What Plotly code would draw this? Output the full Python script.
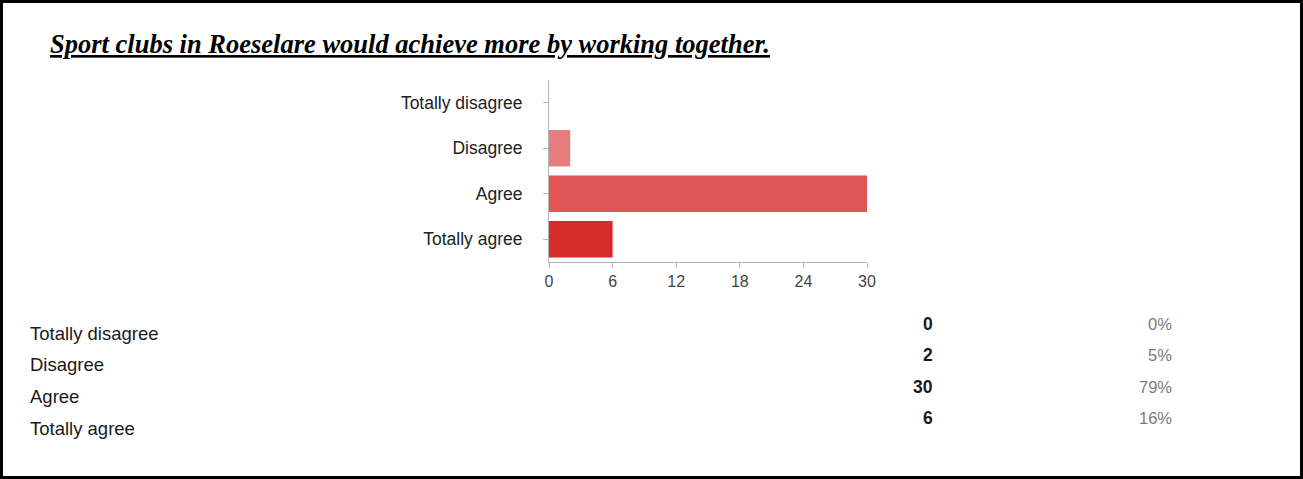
import plotly.graph_objects as go

# Survey answers
categories = ["Totally disagree", "Disagree", "Agree", "Totally agree"]
counts = [0, 2, 30, 6]
bar_colors = ["#f0a8a8", "#e77c7c", "#e05555", "#d72b2b"]
x_ticks = [0, 6, 12, 18, 24, 30]
title_text = "Sport clubs in Roeselare would achieve more by working together."

total = sum(counts)
percents = [f"{round(100 * c / total)}%" for c in counts]

W, H = 1303, 479
L, R, T, B = 549, 867, 80, 262  # plot area in pixels


def px(x):
    return (x - L) / (R - L)


def py(y):
    return (B - y) / (B - T)


fig = go.Figure(
    go.Bar(
        x=counts,
        y=categories,
        orientation="h",
        marker=dict(color=bar_colors, line=dict(width=0)),
        width=0.8,
        hoverinfo="skip",
    )
)

fig.update_layout(
    width=W,
    height=H,
    margin=dict(l=L, r=W - R, t=T, b=H - B),
    paper_bgcolor="white",
    plot_bgcolor="white",
    showlegend=False,
    font=dict(family="Arial, Liberation Sans, sans-serif"),
)

fig.update_xaxes(
    range=[0, 30],
    tickvals=x_ticks,
    showgrid=False,
    zeroline=False,
    showline=True,
    linecolor="#b5b5b5",
    linewidth=1,
    ticks="outside",
    ticklen=5,
    tickcolor="#b5b5b5",
    tickfont=dict(size=16, color="#444444"),
)

fig.update_yaxes(
    categoryorder="array",
    categoryarray=categories[::-1],
    range=[-0.5, 3.5],
    showgrid=False,
    zeroline=False,
    showline=True,
    linecolor="#b5b5b5",
    linewidth=1,
    ticks="outside",
    ticklen=5,
    tickcolor="#b5b5b5",
    tickfont=dict(size=17.5, color="#222222"),
    ticklabelstandoff=17,
)

annotations = [
    dict(
        x=px(48), y=py(44), xref="paper", yref="paper",
        text=f"<b><i><u>{title_text}</u></i></b>",
        showarrow=False, xanchor="left", yanchor="middle",
        font=dict(family="Liberation Serif, Times New Roman, serif", size=26.5, color="black"),
    )
]

label_y = [333, 364, 396, 428]
value_y = [324, 355, 387, 418]
label_fonts = ["Arial, Liberation Sans, sans-serif"] * 4
label_fonts[2] = "Liberation Sans Narrow, Arial Narrow, sans-serif"
for cat, cnt, pct, ly, vy, fam in zip(categories, counts, percents, label_y, value_y, label_fonts):
    annotations.append(dict(
        x=px(28), y=py(ly), xref="paper", yref="paper", text=cat,
        showarrow=False, xanchor="left", yanchor="middle",
        font=dict(size=18.5, color="#1a1a1a", family=fam),
    ))
    annotations.append(dict(
        x=px(935), y=py(vy), xref="paper", yref="paper", text=f"<b>{cnt}</b>",
        showarrow=False, xanchor="right", yanchor="middle",
        font=dict(size=17.5, color="#1a1a1a"),
    ))
    annotations.append(dict(
        x=px(1174), y=py(vy), xref="paper", yref="paper", text=pct,
        showarrow=False, xanchor="right", yanchor="middle",
        font=dict(size=16.5, color="#7a7a7a"),
    ))

fig.update_layout(annotations=annotations)

# Frame around the whole panel
fig.add_shape(
    type="rect", xref="paper", yref="paper",
    x0=px(1.5), x1=px(W - 1.5), y0=py(1.5), y1=py(H - 1.5),
    line=dict(color="black", width=3), fillcolor="rgba(0,0,0,0)", layer="above",
)

fig.write_html("out.html")
